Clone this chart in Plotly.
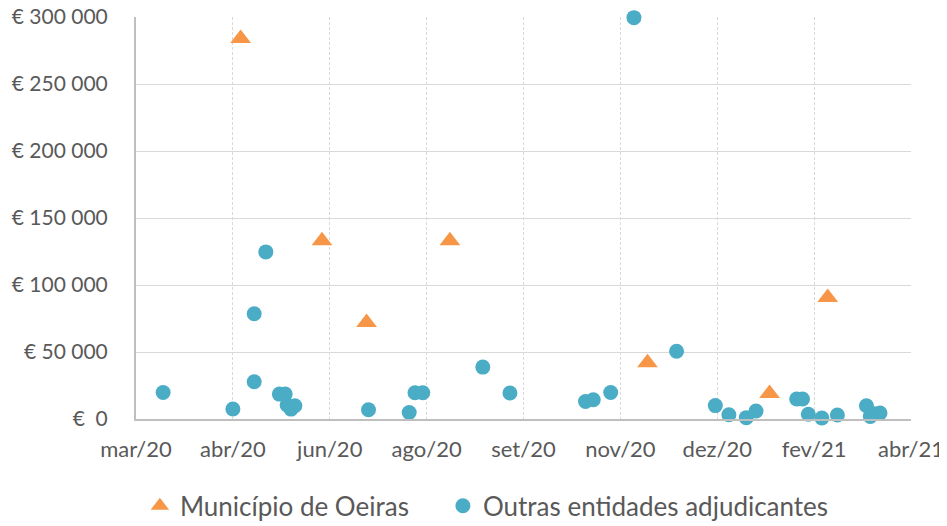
import plotly.graph_objects as go

# Contratos por data de adjudicação (valores em euros)
oeiras_dates = ["2020-04-28", "2020-06-09", "2020-07-02", "2020-08-14",
                "2020-11-24", "2021-01-26", "2021-02-25"]
oeiras_values = [284000, 133000, 72000, 133000, 42000, 19000, 90600]

outras_dates = ["2020-03-19", "2020-04-24", "2020-05-05", "2020-05-05", "2020-05-11",
                "2020-05-18", "2020-05-21", "2020-05-22", "2020-05-24", "2020-05-26",
                "2020-07-03", "2020-07-24", "2020-07-27", "2020-07-31", "2020-08-31",
                "2020-09-14", "2020-10-23", "2020-10-27", "2020-11-05", "2020-11-17",
                "2020-12-09", "2020-12-29", "2021-01-05", "2021-01-14", "2021-01-19",
                "2021-02-09", "2021-02-12", "2021-02-15", "2021-02-22", "2021-03-02",
                "2021-03-17", "2021-03-19", "2021-03-21", "2021-03-24"]
outras_values = [19800, 7500, 78500, 27800, 124700,
                 18600, 18600, 10500, 7400, 9900,
                 6900, 4900, 19600, 19600, 38750,
                 19400, 13100, 14400, 19800, 299500,
                 50600, 10000, 3200, 1000, 6000,
                 14900, 14900, 3500, 800, 3000,
                 9900, 1900, 3900, 4500]

# eixo X (passo de 50 dias, como no Excel)
tick_dates = ["2020-03-05", "2020-04-24", "2020-06-13", "2020-08-02", "2020-09-21",
              "2020-11-10", "2020-12-30", "2021-02-18", "2021-04-09"]
tick_labels = ["mar/20", "abr/20", "jun/20", "ago/20", "set/20",
               "nov/20", "dez/20", "fev/21", "abr/21"]

y_ticks = [0, 50000, 100000, 150000, 200000, 250000, 300000]
y_labels = ["€  0", "€ 50 000", "€ 100 000", "€ 150 000", "€ 200 000", "€ 250 000", "€ 300 000"]

FONT = "Lato, 'DejaVu Sans', sans-serif"
GREY = "#595959"

fig = go.Figure()
fig.add_trace(go.Scatter(
    x=oeiras_dates, y=oeiras_values, mode="markers",
    name="Município de Oeiras", legend="legend",
    marker=dict(symbol="triangle-up", size=18, color="#F79646"),
    cliponaxis=False,
))
fig.add_trace(go.Scatter(
    x=outras_dates, y=outras_values, mode="markers",
    name="Outras entidades adjudicantes", legend="legend2",
    marker=dict(symbol="circle", size=15, color="#4BACC6"),
    cliponaxis=False,
))

leg = dict(orientation="h", xanchor="left", y=-0.216, yanchor="middle",
           font=dict(size=26, color=GREY), itemsizing="trace",
           bgcolor="rgba(0,0,0,0)")

# a página tem 8px de margem no body -> figura um pouco menor
fig.update_layout(
    width=939, height=518,
    plot_bgcolor="#ffffff",
    paper_bgcolor="#ffffff",
    font=dict(family=FONT, size=21, color=GREY),
    margin=dict(l=128, r=36, t=9, b=107, autoexpand=False),
    showlegend=True,
    legend=dict(leg, x=0.005),
    legend2=dict(leg, x=0.396),
    xaxis=dict(
        type="date", automargin=False,
        range=[tick_dates[0], tick_dates[-1]],
        tickvals=tick_dates, ticktext=tick_labels,
        tickfont=dict(size=22),
        showgrid=True, gridcolor="#d9d9d9", griddash="3px,2px", gridwidth=1,
        showline=True, linecolor="#bfbfbf", linewidth=2,
        ticks="", ticklabelstandoff=10, ticklabeloverflow="allow",
        zeroline=False,
    ),
    yaxis=dict(
        automargin=False,
        range=[0, 300000],
        tickvals=y_ticks, ticktext=y_labels,
        showgrid=True, gridcolor="#d9d9d9", gridwidth=1,
        showline=True, linecolor="#bfbfbf", linewidth=2,
        ticks="", ticklabelstandoff=22, ticklabeloverflow="allow",
        zeroline=False,
    ),
)

fig.write_html("out.html")
